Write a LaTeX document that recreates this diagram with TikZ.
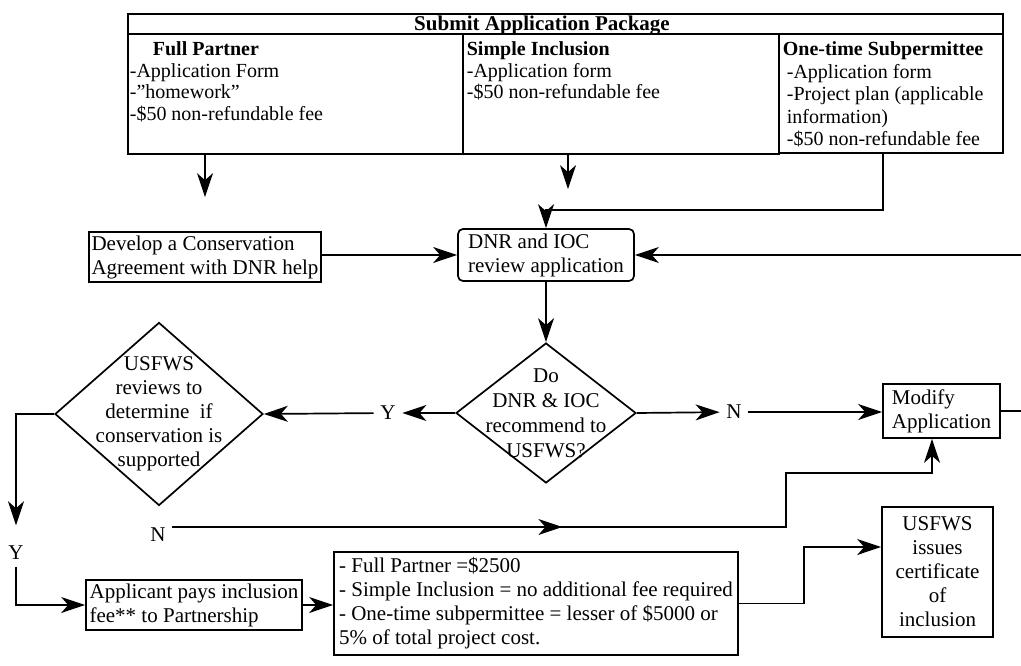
\documentclass[tikz,border=0pt]{standalone}
\usepackage{fontspec}
\setmainfont{Liberation Serif}
\usetikzlibrary{shapes.geometric,arrows.meta,decorations.markings}

\begin{document}
\begin{tikzpicture}[x=1pt,y=-1pt,line width=1.7pt,>={Stealth[length=24pt,width=16pt,inset=7pt]}]
   \tikzstyle{every node}=[font=\fontsize{21}{24}\selectfont, inner sep=0pt]
   \tikzstyle{cell}=[draw, anchor=north west, inner sep=0pt]
   \tikzstyle{cellText}=[anchor=north west, align=left, font=\fontsize{20}{21.5}\selectfont]
   \tikzstyle{box}=[draw, align=left, inner xsep=2pt]
   \tikzstyle{decision}=[draw, diamond, inner sep=0pt]
   \tikzstyle{answer}=[inner sep=6pt]
   \tikzstyle{arr}=[->]
   \tikzstyle{midArrow}=[postaction={decorate}, decoration={markings, mark=at position 0.46 with {\arrow{>}}}]

   \useasboundingbox (0,0) rectangle (1021,666);

\node[cell, minimum width=875pt, minimum height=20pt] (pkg) at (127,13) {};
\node[text depth=0pt, font=\fontsize{21}{24}\selectfont\bfseries] (pkgText) at (542,23) {Submit Application Package};
\node[cell, minimum width=335pt, minimum height=120pt] (fp) at (127,33) {};
\node[cell, minimum width=316pt, minimum height=120pt] (si) at (462,33) {};
\node[cell, minimum width=224pt, minimum height=119pt] (ot) at (778,33) {};

\node[cellText] (fpText) at (129,41) {\hspace*{23pt}\textbf{Full Partner}\\-Application Form\\-”homework”\\-\$50 non-refundable fee};
\node[cellText] (siText) at (466,41) {\textbf{Simple Inclusion}\\-Application form\\-\$50 non-refundable fee};
\node[cellText, font=\fontsize{20}{22.5}\selectfont] (otText) at (782,41) {\textbf{One-time Subpermittee}\\\hspace*{4pt}-Application form\\\hspace*{4pt}-Project plan (applicable\\\hspace*{4pt}information)\\\hspace*{4pt}-\$50 non-refundable fee};

\node[box, minimum width=232pt, minimum height=50pt] (develop) at (205,257) {Develop a Conservation\\Agreement with DNR help};
\node[box, rounded corners=5pt, minimum width=176pt, minimum height=52pt] (review) at (546,255) {DNR and IOC\\review application};

\node[decision, minimum width=180pt, minimum height=140pt] (rec) at (546,413) {};
\node[align=center, font=\fontsize{21}{25}\selectfont] (recText) at (rec) {Do\\DNR \& IOC\\recommend to\\USFWS?};
\node[decision, minimum width=208pt, minimum height=183pt] (usfws) at (159,414) {};
\node[align=center] (usfwsText) at (usfws) {USFWS\\reviews to\\determine\ \ if\\conservation is\\supported};

\node[answer] (y1) at (388,413) {Y};
\node[answer] (n1) at (734,412) {N};
\node[box, minimum width=117pt, minimum height=54pt] (modify) at (941.5,411) {Modify\\Application};

\node[answer] (y2) at (16,553) {Y};
\node[answer] (n2) at (158,535) {N};
\node[box, minimum width=216pt, minimum height=50pt] (pay) at (194,605) {Applicant pays inclusion\\fee** to Partnership};
\node[box, minimum width=404pt, minimum height=103pt] (fee) at (536,603.5) {- Full Partner =\$2500\\- Simple Inclusion = no additional fee required\\- One-time subpermittee = lesser of \$5000 or\\5\% of total project cost.};
\node[box, align=center, minimum width=111pt, minimum height=130pt] (cert) at (937.5,572) {USFWS\\issues\\certificate\\of\\inclusion};

\coordinate (siOut) at (568,153);
\coordinate (otOut) at (883,152);
\coordinate (nTurn) at (786,473);

\draw[arr, shorten >=34pt] (develop.north |- fp.south) -- (develop.north);
\draw[arr, shorten >=39pt] (siOut) -- (siOut |- review.north);
\draw[arr] (otOut) -- ++(0,58) -| (review.north);
\draw[arr] (develop.east |- review.west) -- (review.west);
\draw[arr] (modify.east) -- ++(40,0) |- (review.east);
\draw[arr] (review) -- (rec);
\draw[arr] (rec.west) -- (y1);
\draw[arr] (y1) -- (usfws.east);
\draw[arr] (rec.east) -- (n1);
\draw[arr] (n1) -- (n1 -| modify.west);
\draw[arr, shorten >=14pt] (usfws.west) -| (y2);
\draw[arr] (y2) |- (pay.west);
\draw[arr, midArrow] ([yshift=8pt]n2.east) -| (nTurn) -| ([xshift=-9.5pt]modify.south);
\draw[arr] (pay.east) -- (pay.east -| fee.west);
\draw[arr] (fee.east) -- ++(65,0) |- ([yshift=25pt]cert.west);

\end{tikzpicture}
\end{document}
